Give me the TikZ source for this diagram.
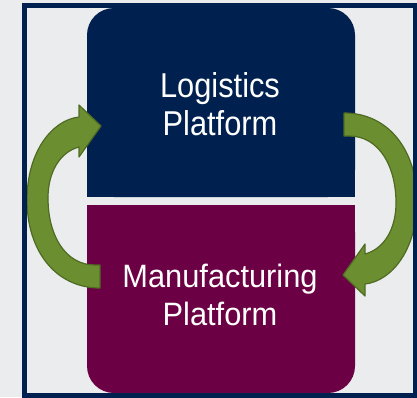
\documentclass[tikz,border=0pt]{standalone}
\usepackage{fontspec}
\setmainfont{Liberation Sans}
\definecolor{bg}{HTML}{EBECEE}
\definecolor{navy}{HTML}{00214F}
\definecolor{plum}{HTML}{6C0044}
\definecolor{leaf}{HTML}{6B8E31}
\definecolor{leafdark}{HTML}{4F6B22}
\begin{document}
\begin{tikzpicture}[x=1pt,y=-1pt,
  lbl/.style={text=white,font=\fontsize{30.8}{36}\selectfont,inner sep=0pt,anchor=base},
  arrowshape/.style={fill=leaf,draw=leafdark,line width=1.2pt,line join=round}]
\fill[bg] (0,0) rectangle (417,397);
\useasboundingbox (0,0) rectangle (417,397);
% boxes
\fill[navy,rounded corners=27] (87,8) rectangle (355,197);
\fill[navy] (87,150) rectangle (355,197);
\fill[plum,rounded corners=27] (87,205) rectangle (355,393);
\fill[plum] (87,205) rectangle (355,250);
% texts
\node[lbl] (log1) at (220,97) {\scalebox{1}[1.12]{Logistics}};
\node[lbl] (log2) at (220,135) {\scalebox{1}[1.12]{Platform}};
\node[lbl] (man1) at (220,287) {\scalebox{1}[1.05]{Manufacturing}};
\node[lbl] (man2) at (220,325) {\scalebox{1}[1.05]{Platform}};
% left arrow
\path[arrowshape] (100,288) .. controls (55,288) and (27,250) .. (27,200)
  .. controls (27,152) and (52,120) .. (79,117) -- (79,105) -- (101,126) -- (79,157) -- (79,147)
  .. controls (60,152) and (48,172) .. (48,198) .. controls (48,235) and (65,265) .. (95,265)
  -- (100,265) -- cycle;
% right arrow
\begin{scope}[rotate around={180:(222,200.5)}]
\path[arrowshape] (100,288) .. controls (55,288) and (27,250) .. (27,200)
  .. controls (27,152) and (52,120) .. (79,117) -- (79,105) -- (101,126) -- (79,157) -- (79,147)
  .. controls (60,152) and (48,172) .. (48,198) .. controls (48,235) and (65,265) .. (95,265)
  -- (100,265) -- cycle;
\end{scope}
% frame
\draw[navy,line width=5pt] (24.5,5.5) rectangle (415.5,395.5);
\end{tikzpicture}
\end{document}
